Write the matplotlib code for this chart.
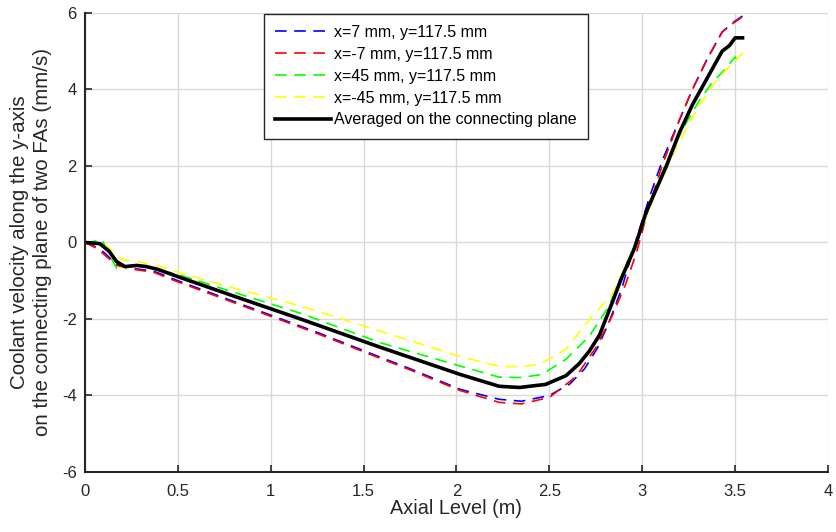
import numpy as np
import matplotlib
matplotlib.use("Agg")
import matplotlib.pyplot as plt

plt.rcParams['font.family'] = ['Liberation Sans', 'DejaVu Sans']
plt.rcParams['axes.unicode_minus'] = False

# axial level (m) and velocity (mm/s) for each probe line
x_p7 = [0, 0.05, 0.1, 0.17, 0.26, 0.37, 0.5, 0.75, 1.0, 1.25, 1.59, 1.75, 2.02, 2.23, 2.35, 2.5,
        2.61, 2.69, 2.76, 2.82, 2.89, 2.95, 3.04, 3.11, 3.2, 3.27, 3.35, 3.43, 3.48, 3.54]
v_p7 = [0, -0.1, -0.25, -0.57, -0.68, -0.75, -1.0, -1.45, -1.9, -2.35, -3.0, -3.3, -3.84, -4.1, -4.15, -4.0,
        -3.7, -3.3, -2.75, -2.1, -1.2, -0.2, 1.2, 2.17, 3.2, 4.0, 4.8, 5.5, 5.72, 5.92]

x_m7 = [0, 0.05, 0.1, 0.17, 0.26, 0.37, 0.5, 0.75, 1.0, 1.25, 1.59, 1.75, 2.02, 2.23, 2.35, 2.5,
        2.645, 2.75, 2.84, 2.91, 2.97, 3.04, 3.11, 3.2, 3.27, 3.35, 3.43, 3.48, 3.54]
v_m7 = [0, -0.12, -0.3, -0.6, -0.7, -0.78, -1.03, -1.48, -1.93, -2.38, -3.03, -3.33, -3.87, -4.18, -4.22, -4.05,
        -3.5, -2.75, -1.9, -1.1, -0.25, 1.0, 2.05, 3.2, 4.0, 4.8, 5.5, 5.7, 5.9]

x_p45 = [0, 0.05, 0.09, 0.13, 0.17, 0.3, 0.51, 0.8, 1.16, 1.59, 2.02, 2.23, 2.35, 2.46, 2.59, 2.715,
         2.82, 2.9, 2.96, 3.02, 3.08, 3.16, 3.24, 3.31, 3.38, 3.44, 3.5, 3.53]
v_p45 = [0, 0.03, 0.08, -0.3, -0.68, -0.6, -0.85, -1.3, -1.85, -2.62, -3.23, -3.52, -3.53, -3.45, -3.05, -2.45,
         -1.67, -0.75, -0.05, 0.7, 1.5, 2.43, 3.15, 3.73, 4.2, 4.5, 4.85, 4.65]

x_m45 = [0, 0.12, 0.2, 0.29, 0.39, 0.51, 0.83, 1.16, 1.59, 2.02, 2.23, 2.35, 2.45, 2.59, 2.73, 2.84,
         2.92, 2.98, 3.04, 3.1, 3.16, 3.24, 3.31, 3.38, 3.44, 3.5, 3.54]
v_m45 = [0, -0.1, -0.45, -0.5, -0.6, -0.79, -1.23, -1.66, -2.32, -2.98, -3.24, -3.25, -3.18, -2.79, -1.93, -1.35,
         -0.5, 0.15, 0.9, 1.6, 2.25, 3.0, 3.6, 4.1, 4.45, 4.75, 4.95]

x_avg = [0, 0.08, 0.13, 0.17, 0.215, 0.28, 0.33, 0.39, 0.51, 0.8, 1.16, 1.59, 2.02, 2.23, 2.34, 2.48,
         2.59, 2.66, 2.715, 2.77, 2.84, 2.885, 2.96, 3.02, 3.13, 3.2, 3.27, 3.35, 3.43, 3.47, 3.5, 3.54]
v_avg = [0, -0.03, -0.23, -0.5, -0.63, -0.6, -0.63, -0.7, -0.91, -1.4, -2.0, -2.74, -3.45, -3.76, -3.79, -3.71,
         -3.48, -3.17, -2.84, -2.42, -1.55, -0.97, -0.13, 0.78, 2.0, 2.87, 3.6, 4.3, 5.0, 5.15, 5.35, 5.35]

labels = ["x=7 mm, y=117.5 mm", "x=-7 mm, y=117.5 mm", "x=45 mm, y=117.5 mm",
          "x=-45 mm, y=117.5 mm", "Averaged on the connecting plane"]

dark = (0.15, 0.15, 0.15)

fig = plt.figure(figsize=(8.36, 5.32), dpi=100)
ax = fig.add_axes([0.1017, 0.1128, 0.8887, 0.8628])

dash = (0, (7, 4.5))
ax.plot(x_p7, v_p7, color=(0, 0, 1), linestyle=dash, lw=1.2, label=labels[0])
ax.plot(x_m7, v_m7, color=(1, 0, 0), linestyle=dash, lw=1.2, label=labels[1])
ax.plot(x_p45, v_p45, color=(0, 1, 0), linestyle=dash, lw=1.2, label=labels[2])
ax.plot(x_m45, v_m45, color=(1, 1, 0), linestyle=dash, lw=1.2, label=labels[3])
ax.plot(x_avg, v_avg, color='k', lw=2.6, label=labels[4])

ax.set_xlim(0, 4)
ax.set_ylim(-6, 6)
ax.set_xticks(np.arange(0, 4.01, 0.5))
ax.set_xticklabels(["0", "0.5", "1", "1.5", "2", "2.5", "3", "3.5", "4"])
ax.set_yticks(np.arange(-6, 7, 2))
ax.grid(True, color=(0.85, 0.85, 0.85), lw=1)
ax.set_axisbelow(True)
for s in ['top', 'right']:
    ax.spines[s].set_visible(False)
for s in ['left', 'bottom']:
    ax.spines[s].set_color(dark)
    ax.spines[s].set_linewidth(1.5)
ax.tick_params(direction='in', length=5, width=1.2, labelsize=12, colors=dark)
ax.tick_params(axis='x', pad=9)
ax.tick_params(axis='y', pad=6)

ax.set_xlabel("Axial Level (m)", fontsize=14.3, color=dark, labelpad=0)
ax.set_ylabel("Coolant velocity along the y-axis\non the connecting plane of two FAs (mm/s)",
              fontsize=14.8, color=dark, labelpad=7, linespacing=1.3)

leg = ax.legend(loc='upper left', bbox_to_anchor=(0.2396, 1.0), fontsize=11.5, fancybox=False,
                framealpha=1, edgecolor=dark, handlelength=3.5, borderaxespad=0.05,
                labelspacing=0.43, handletextpad=0.2, borderpad=0.7)
leg.get_frame().set_linewidth(1)

fig.savefig("out.png", dpi=100)
